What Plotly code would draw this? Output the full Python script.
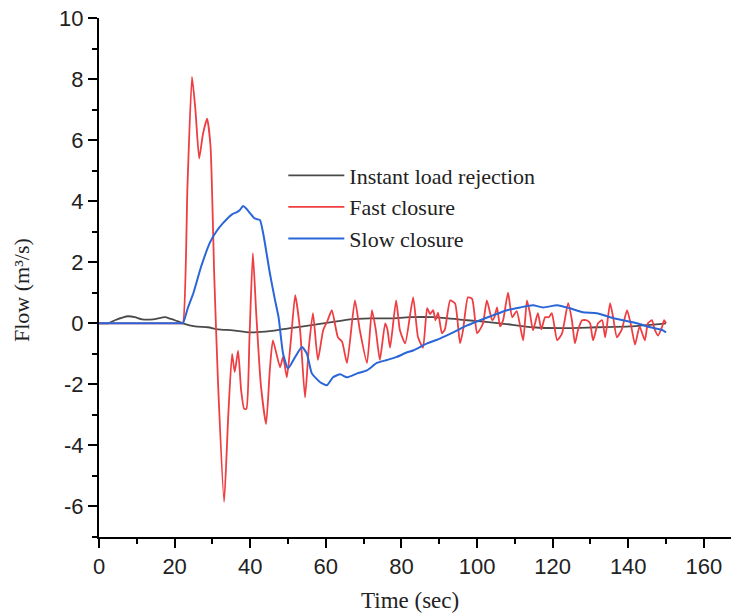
import plotly.graph_objects as go

# ---- data ----
instant_t = [0, 2.4, 4.2, 7.7, 9.5, 11.4, 14.3, 17.5, 18.8, 20.1, 22.2, 25.4, 28.8, 31.5, 35.4, 40.0,
             45.2, 50.5, 55.8, 61.1, 66.4, 71.7, 77.0, 82.3, 88.4, 97.4, 106.1, 114.8, 122.8,
             131.7, 140.5, 150.0]
instant_q = [0, 0, 0.1, 0.23, 0.2, 0.13, 0.13, 0.2, 0.15, 0.1, 0, -0.1, -0.13, -0.2, -0.23, -0.3,
             -0.26, -0.16, -0.07, 0.03, 0.13, 0.16, 0.16, 0.2, 0.2, 0.1, 0, -0.13, -0.16,
             -0.13, -0.1, 0.0]

fast_t = [0, 11.0, 21.6, 22.2, 23.4, 24.6, 25.5, 26.5, 27.5, 28.6, 29.5, 30.5, 31.5, 33.1, 34.2, 35.2, 35.9,
          36.8, 37.6, 38.4, 39.0, 39.8, 40.7, 41.6, 42.8, 44.2, 45.2, 46.0, 47.9, 48.7, 49.7,
          50.8, 51.9, 53.2, 54.5, 55.5, 56.6, 57.9, 59.3, 60.5, 61.6, 63.2, 64.3, 65.6, 67.7,
          69.0, 70.9, 72.2, 73.2, 74.3, 75.7, 76.3, 77.0, 78.6, 79.6, 81.0, 83.1, 84.4, 85.7,
          86.8, 87.6, 88.4, 89.0, 89.7, 90.7, 91.5, 92.9, 94.2, 95.5, 96.3, 97.6, 98.7, 100.0,
          100.8, 101.6, 102.6, 104.0, 104.6, 105.3, 106.1, 106.9, 108.2, 109.3, 110.5, 112.2,
          113.2, 114.0, 114.8, 116.1, 117.0, 118.0, 119.0, 119.8, 121.2, 122.5, 124.1, 125.1,
          125.9, 126.7, 127.8, 129.0, 129.9, 130.7, 132.0, 133.1, 133.9, 135.2, 136.0, 137.0,
          138.3, 139.7, 140.8, 141.8, 143.0, 144.4, 145.2, 146.3, 147.0, 147.9, 149.0, 149.5,
          150.0]
fast_q = [0, 0, 0, 0, 4.5, 8.07, 7.0, 5.4, 6.2, 6.7, 5.8, 1.5, -2.0, -5.85, -3.0, -1.0, -1.6,
          -0.9, -2.2, -2.8, -2.8, -0.5, 2.3, 0.3, -2.0, -3.3, -1.5, -0.56, -1.44, -1.1, -1.77,
          -0.5, 0.92, -0.23, -2.43, -0.8, 0.33, -1.2, -0.23, 0.1, 0.43, -0.46, -0.6, -1.3, 0.75,
          -0.23, -1.3, 0.43, -0.2, -1.2, 0.0, -0.2, -0.8, 0.75, -0.23, -0.66, 0.85, -0.46, -0.8,
          0.5, 0.3, 0.43, 0.1, 0.35, -0.33, -0.2, 0.75, 0.65, -0.66, -0.23, 0.85, 0.8, -0.33,
          -0.2, 0.0, 0.75, 0.1, 0.2, 0.52, -0.1, 0.1, 1.0, 0.2, 0.4, -0.56,
          0.75, 0.33, -0.23, 0.33, -0.2, 0.2, 0.2, 0.33, -0.56, -0.33, 0.66, 0.1,
          -0.66, -0.23, 0.1, 0.1, 0.0, -0.56, 0.0, 0.1, -0.46, 0.66, 0.2, -0.46,
          -0.2, 0.43, -0.1, -0.7, -0.1, -0.56, 0.0, 0.1, -0.2, -0.4, -0.1, 0.1,
          0.0]

slow_t = [0, 11.0, 21.5, 22.2, 23.5, 25.0, 27.0, 29.4, 31.0, 32.8, 35.2, 36.5, 37.2, 38.1, 39.0, 40.0, 41.0, 41.8,
          42.6, 43.5, 45.2, 46.5, 47.5, 48.7, 50.0, 51.9, 53.7, 55.0, 56.3, 58.5, 60.3, 61.9,
          63.8, 65.6, 68.3, 70.9, 73.5, 76.2, 78.8, 81.5, 83.1, 86.8, 90.2, 93.7, 97.4, 100.8,
          104.2, 107.9, 111.4, 114.8, 117.5, 121.2, 124.6, 128.0, 131.7, 135.2, 138.6, 142.3,
          145.8, 149.2, 150.0]
slow_q = [0, 0, 0, 0, 0.5, 1.0, 1.85, 2.66, 3.0, 3.28, 3.57, 3.64, 3.7, 3.84, 3.75, 3.6, 3.45, 3.41,
          3.38, 2.9, 1.64, 0.8, 0.2, -1.0, -1.48, -1.1, -0.78, -1.0, -1.64, -1.93, -2.03, -1.77,
          -1.67, -1.77, -1.64, -1.54, -1.3, -1.2, -1.1, -0.95, -0.89, -0.66, -0.5, -0.3, -0.07, 0.1,
          0.26, 0.43, 0.52, 0.59, 0.52, 0.59, 0.49, 0.36, 0.33, 0.2, 0.1, 0.0,
          -0.13, -0.23, -0.3]

x_ticks = [0, 20, 40, 60, 80, 100, 120, 140, 160]
y_ticks = [-6, -4, -2, 0, 2, 4, 6, 8, 10]
y_ticktext = [str(v) for v in y_ticks]

SERIF = "Liberation Serif, Times New Roman, serif"
SANS = "Liberation Sans, Arial, sans-serif"

fig = go.Figure()
fig.add_trace(go.Scatter(x=instant_t, y=instant_q, mode="lines", name="Instant load rejection",
                         line=dict(color="#4a4a4a", width=1.8, shape="spline", smoothing=0.6),
                         legendgroup="a"))
fig.add_trace(go.Scatter(x=fast_t, y=fast_q, mode="lines", name="Fast closure",
                         line=dict(color="#ee3e42", width=1.8, shape="spline", smoothing=0.5),
                         legendgroup="b"))
fig.add_trace(go.Scatter(x=slow_t, y=slow_q, mode="lines", name="Slow closure",
                         line=dict(color="#2a66d8", width=2, shape="spline", smoothing=0.5),
                         legendgroup="c"))

# page body has an 8px offset, so margins are compensated
L, T, R, B = 91, 10, 8, 85
PW, PH = 739 - L - R, 614 - T - B

fig.update_layout(
    width=739, height=614,
    margin=dict(l=L, r=R, t=T, b=B, autoexpand=False),
    paper_bgcolor="white", plot_bgcolor="white",
    showlegend=True,
    legend=dict(x=0.288, y=0.737, xanchor="left", yanchor="top",
                font=dict(family=SERIF, size=22, color="#222"),
                bgcolor="rgba(0,0,0,0)", itemwidth=56,
                traceorder="grouped", tracegroupgap=0),
    xaxis=dict(range=[0, 169.3], tickmode="array", tickvals=x_ticks,
               showline=True, linecolor="black", linewidth=2,
               ticks="outside", ticklen=9, tickwidth=2, tickcolor="black",
               minor=dict(tickmode="linear", tick0=0, dtick=10, ticks="outside", ticklen=5,
                          tickwidth=2, tickcolor="black"),
               showgrid=False, zeroline=False, ticklabeloverflow="allow", automargin=False,
               tickfont=dict(family=SANS, size=22, color="#222")),
    yaxis=dict(range=[-7, 10], tickmode="array", tickvals=y_ticks, ticktext=y_ticktext,
               showline=True, linecolor="black", linewidth=2,
               ticks="outside", ticklen=9, tickwidth=2, tickcolor="black",
               minor=dict(tickmode="linear", tick0=0, dtick=1, ticks="outside", ticklen=5,
                          tickwidth=2, tickcolor="black"),
               showgrid=False, zeroline=False, ticklabeloverflow="allow", automargin=False,
               tickfont=dict(family=SANS, size=22, color="#222")),
    annotations=[
        dict(text="Time (sec)", xref="paper", yref="paper", x=(402 - L) / PW, y=(T + PH - 592) / PH,
             xanchor="center", yanchor="middle", showarrow=False,
             font=dict(family=SERIF, size=23, color="#222")),
        dict(text="Flow (m³/s)", xref="paper", yref="paper", x=(13 - L) / PW, y=(T + PH - 282) / PH,
             xanchor="center", yanchor="middle", showarrow=False, textangle=-90,
             font=dict(family=SERIF, size=22, color="#222")),
    ],
)

fig.write_html("out.html")
